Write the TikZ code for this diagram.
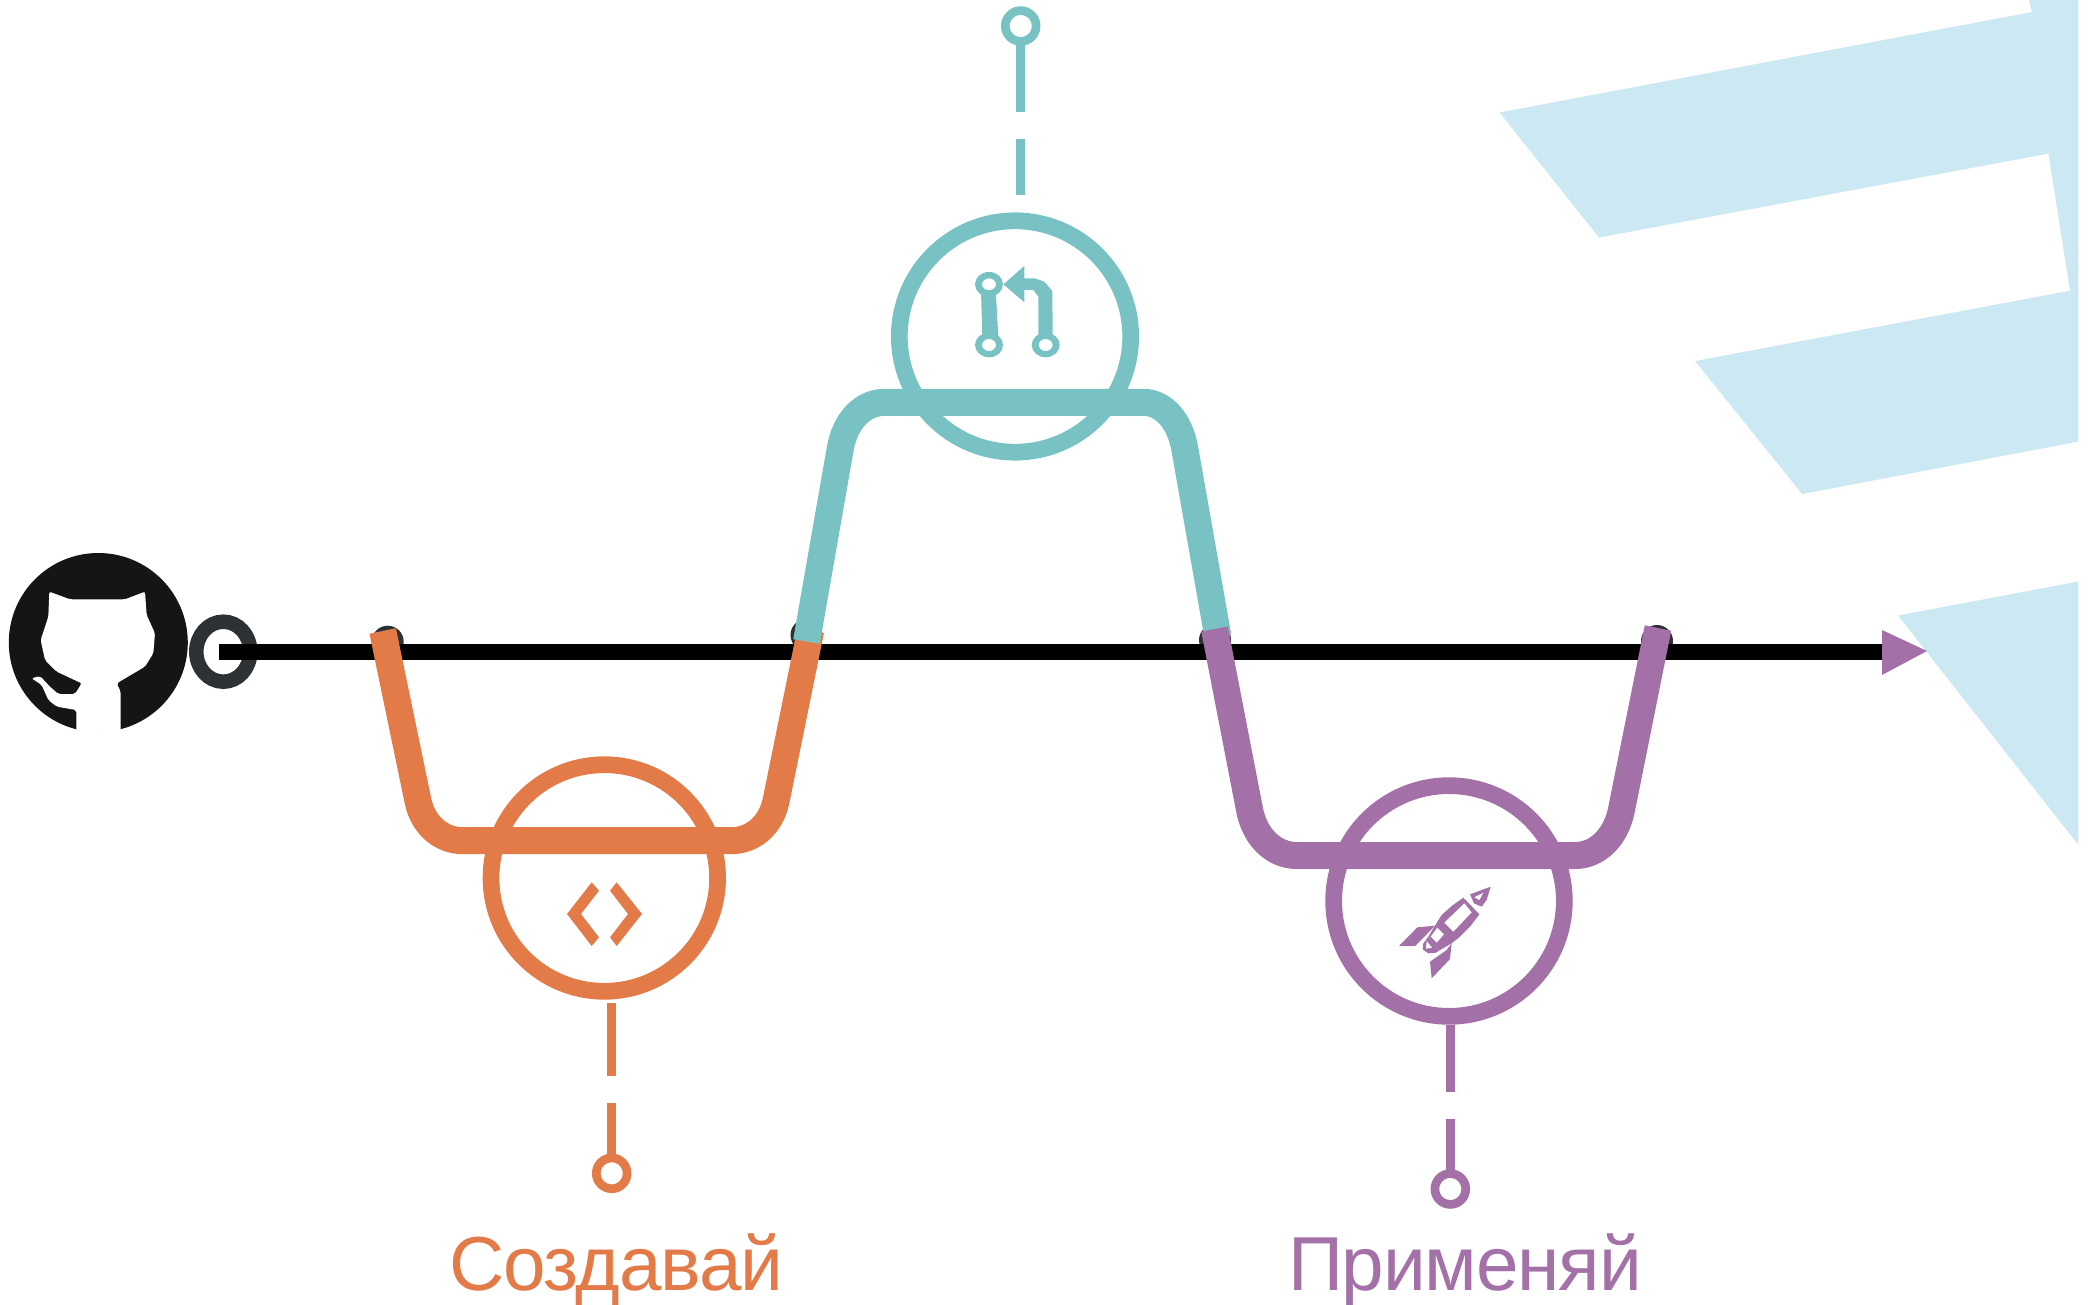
\documentclass[tikz,border=0pt]{standalone}
\usepackage{fontspec}
\setmainfont{Liberation Sans}
\newfontfamily\capfont[LetterSpace=-1.5]{Liberation Sans}
\usetikzlibrary{shapes.geometric}
\definecolor{teal1}{HTML}{79C2C4}
\definecolor{orange1}{HTML}{E37B48}
\definecolor{purple1}{HTML}{A370A8}
\definecolor{sky1}{HTML}{CCE8F3}
\definecolor{dark1}{HTML}{2D3133}
\definecolor{cat1}{HTML}{161516}
\tikzset{
  ring/.style={circle,draw=#1,line width=16.7pt,inner sep=0pt,outer sep=0pt},
  lolli/.style={circle,draw=#1,line width=8.7pt,minimum size=30.8pt,inner sep=0pt,outer sep=0pt,fill=white},
  branch/.style={line width=27pt,draw=#1,line cap=butt},
  stem/.style={line width=8.8pt,draw=#1},
  junction/.style={circle,fill=dark1,minimum size=32pt,inner sep=0pt,outer sep=0pt},
  caption/.style={anchor=base west,inner sep=0pt,outer sep=0pt,font=\capfont\fontsize{#1}{90}\selectfont}
}
\begin{document}
\begin{tikzpicture}[x=1pt,y=-1pt]
\useasboundingbox (0,0) rectangle (2093,1305);
% background arrow shape
\fill[sky1] (1499.5,112.5) -- (2032,12) -- (2029,0) -- (2078.4,0) -- (2078.4,441.6) -- (1802,494) -- (1695,361) -- (2070,290.7) -- (2048.4,153.6) -- (1599,237.5) -- cycle;
\fill[sky1] (1898,615.5) -- (2078.4,581.5) -- (2078.4,845) -- cycle;
% logo
\node[circle,fill=cat1,minimum size=179pt,inner sep=0pt,outer sep=0pt] (logo) at (98.3,642.5) {};
\begin{scope}[shift={(0,530)},x=.33333pt,y=-.33333pt]
\fill[white,rounded corners=2pt] (148,185) -- (210,208) -- (375,208) -- (435,185) -- (440,255) -- (465,310) -- (460,370) -- (435,410) -- (350,460) -- (362,485) -- (362,606) -- (229,606) -- (229,540) -- (170,530) -- (145,510) -- (125,465) -- (95,445) -- (120,438) -- (150,470) -- (175,492) -- (225,492) -- (245,460) -- (170,425) -- (135,390) -- (122,330) -- (145,260) -- cycle;
\end{scope}
% start ring
\node[ellipse,draw=dark1,line width=14.5pt,minimum width=54pt,minimum height=60pt,inner sep=0pt,outer sep=0pt] (start) at (223.3,651.7) {};
% junction dots
\node[junction] (j1) at (387.7,641.7) {};
\node[junction] (j2) at (806.5,635) {};
\node[junction] (j3) at (1215,640) {};
\node[junction] (j4) at (1657,641) {};
% main line and arrowhead
\coordinate (mainA) at (219,652);
\coordinate (mainB) at (1882,652);
\draw[line width=16pt] (mainA) -- (mainB);
\fill[purple1] (1882,630) -- (1927,651) -- (1882,675) -- cycle;
% orange branch
\node[ring=orange1,minimum size=226.6pt] (create) at (604.3,878) {};
\coordinate (o1) at (382.7,631);
\coordinate (o2) at (810.7,630.5);
\draw[branch=orange1] (o1) -- (418,801) .. controls (423,825) and (441,840.7) .. (463,840.7) -- (731,840.7) .. controls (753,840.7) and (771,825) .. (776,801) -- (o2);
% teal branch
\node[ring=teal1,minimum size=231.4pt] (review) at (1015,336.5) {};
\coordinate (t1) at (806.5,641.5);
\coordinate (t2) at (1218,637);
\draw[branch=teal1] (t1) -- (840,450) .. controls (845,420) and (863,402.3) .. (885,402.3) -- (1143,402.3) .. controls (1163,402.3) and (1180,420) .. (1185,450) -- (t2);
% purple branch
\node[ring=purple1,minimum size=230.7pt] (deploy) at (1449,901) {};
\coordinate (p1) at (1214.5,629);
\coordinate (p2) at (1658,628);
\draw[branch=purple1] (p1) -- (1250,812) .. controls (1256,838) and (1274,855.5) .. (1297,855.5) -- (1575,855.5) .. controls (1597,855.5) and (1615,838) .. (1621,812) -- (p2);
% lollipops with dashed stems
\node[lolli=teal1] (lt) at (1020.7,26) {};
\coordinate (st) at (1020.7,195);
\draw[stem=teal1,dash pattern=on 70.7pt off 27pt on 80pt] (lt.south) -- (st);
\node[lolli=orange1] (lo) at (611.7,1173.3) {};
\coordinate (so) at (611.7,1003);
\draw[stem=orange1,dash pattern=on 54.7pt off 27pt on 80pt] (lo.north) -- (so);
\node[lolli=purple1] (lp) at (1450.3,1189) {};
\coordinate (sp) at (1450.3,1025);
\draw[stem=purple1,dash pattern=on 54.7pt off 27pt on 80pt] (lp.north) -- (sp);
% code icon
\begin{scope}[shift={(450,740)},x=.33333pt,y=-.33333pt]
\fill[orange1] (425,427) -- (447,452) -- (393,522) -- (447,592) -- (425,618) -- (351,522) -- cycle;
\fill[orange1] (500,427) -- (480,452) -- (534,522) -- (480,592) -- (500,618) -- (576,522) -- cycle;
\end{scope}
% pull request icon
\begin{scope}[shift={(850,0)},x=.33333pt,y=-.33333pt]
\fill[teal1] (393,870) -- (437,870) -- (445,1010) -- (397,1010) -- cycle;
\fill[teal1,even odd rule] (417,853) ellipse [x radius=42,y radius=37] (417,853) ellipse [x radius=21,y radius=18];
\fill[teal1,even odd rule] (417,1035) ellipse [x radius=42,y radius=37] (417,1035) ellipse [x radius=21,y radius=18];
\fill[teal1,even odd rule] (587,1035) ellipse [x radius=42,y radius=37] (587,1035) ellipse [x radius=21,y radius=18];
\fill[teal1] (460,853) -- (523,798) -- (523,835) -- (555,835) -- (583,845) -- (607,873) -- (608,1005) -- (565,1005) -- (565,890) -- (550,870) -- (523,870) -- (523,907) -- cycle;
\end{scope}
% rocket icon
\begin{scope}[shift={(1300,760)},x=.33333pt,y=-.33333pt]
\fill[purple1] (510,403) -- (572,380) -- (560,420) -- (545,440) -- (522,430) -- cycle;
\fill[white] (523,412) -- (550,398) -- (538,420) -- cycle;
\fill[purple1] (490,413) -- (538,463) -- (510,500) -- (480,530) -- (455,550) -- (420,570) -- (400,555) -- (385,530) -- (405,497) -- (425,465) -- (455,438) -- cycle;
\fill[white] (493,430) -- (515,457) -- (460,515) -- (433,488) -- cycle;
\fill[white] (412,503) -- (432,523) -- (410,548) -- (392,530) -- cycle;
\fill[purple1] (297,558) -- (352,502) -- (405,497) -- (380,523) -- (345,558) -- cycle;
\fill[purple1] (395,655) -- (390,605) -- (440,570) -- (455,550) -- (450,597) -- cycle;
\fill[purple1] (385,530) -- (370,550) -- (368,568) -- (385,580) -- (408,578) -- (420,570) -- (400,555) -- cycle;
\fill[white] (380,543) -- (396,563) -- (378,566) -- cycle;
\end{scope}
% captions
\node[caption=76.5,text=orange1] (cap1) at (449,1290.7) {Создавай};
\node[caption=76.5,text=purple1] (cap2) at (1288,1290.7) {Применяй};
\end{tikzpicture}
\end{document}
